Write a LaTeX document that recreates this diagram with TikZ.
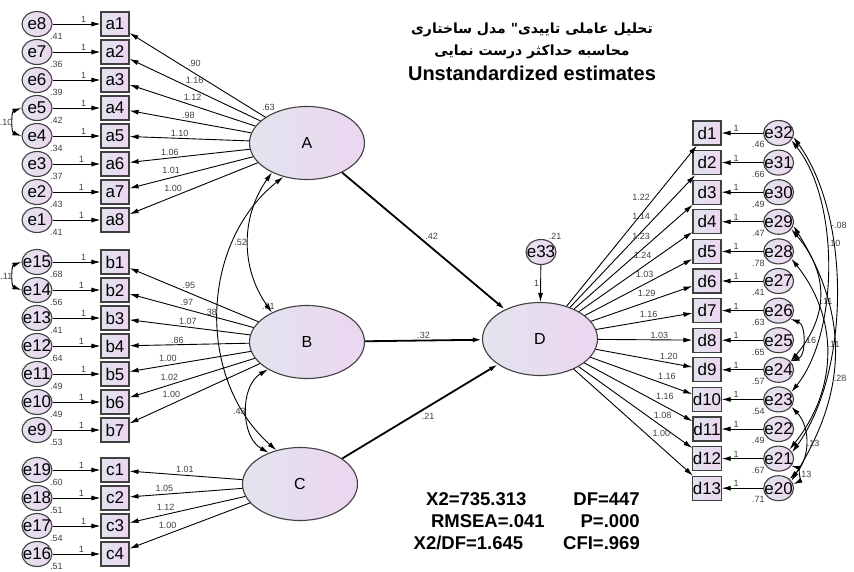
\documentclass[tikz,border=0pt]{standalone}
\usepackage{fontspec}
\setmainfont{Liberation Sans}
\newfontfamily\arabicfont[Script=Arabic]{DejaVu Sans}
\TeXXeTstate=1
\usetikzlibrary{arrows.meta, shapes.geometric, positioning}
\definecolor{semL}{RGB}{226,228,238}
\definecolor{semR}{RGB}{236,214,240}
\tikzset{%
>={Latex[width=5pt,length=9pt]},
  % Specifications for style of nodes:
            obs/.style = {rectangle, draw=black!75, line width=1.1pt,
                            left color=semL, right color=semR, minimum width=28pt,
                            minimum height=24pt, inner sep=0pt, font=\fontsize{17}{17}\selectfont},
            err/.style = {ellipse, draw=black!75, line width=1.1pt,
                            left color=semL, right color=semR, minimum width=30pt,
                            minimum height=25pt, inner xsep=-4pt, inner ysep=0pt,
                            font=\fontsize{17}{17}\selectfont},
            lat/.style = {ellipse, draw=black!75, line width=1.1pt,
                            left color=semL, right color=semR, minimum width=115pt,
                            minimum height=73pt, font=\fontsize{16}{16}\selectfont},
            est/.style = {font=\fontsize{9}{9}\selectfont, text=black!75, inner sep=1pt},
            varl/.style = {label={[est]-35:#1}},
            varr/.style = {label={[est]-150:#1}},
            reg/.style = {->, line width=0.9pt},
            big/.style = {->, line width=1.8pt},
            cov/.style = {<->, line width=0.9pt},
            ttl/.style = {font=\fontsize{14}{14}\selectfont\bfseries},
            stat/.style = {font=\fontsize{18.5}{22}\selectfont\bfseries, align=right, inner sep=0pt}
}
\begin{document}
\begin{tikzpicture}[x=1pt, y=-1pt, node distance=28pt]
\useasboundingbox (0,0) rectangle (854,571);

                % title
                \node[ttl] (ttl1) at (532,30) {\arabicfont\beginR تحلیل عاملی تاییدی" مدل ساختاری\endR};
                \node[ttl] (ttl2) at (532,52) {\arabicfont\beginR محاسبه حداکثر درست نمایی\endR};
                \node[font=\fontsize{20}{20}\selectfont\bfseries] (ttl3) at (532,73) {Unstandardized estimates};

                % latent variables
                \node[lat, label={[est]135:.63}] (A) at (307,143) {A};
                \node[lat, label={[est]135:.81}] (B) at (307,342) {B};
                \node[lat] (C) at (300,484) {C};
                \node[lat] (D) at (540,339) {D};
                \node[err, label={[est]60:.21}] (e33) at (541,252) {e33};
                \draw[reg] (e33) -- (D) node[est, midway, left] {1};

                % items of A
                \node[err, varl=.41] (e8) at (37,24) {e8};
                \node[err, below of=e8, varl=.36] (e7) {e7};
                \node[err, below of=e7, varl=.39] (e6) {e6};
                \node[err, below of=e6, varl=.42] (e5) {e5};
                \node[err, below of=e5, varl=.34] (e4) {e4};
                \node[err, below of=e4, varl=.37] (e3) {e3};
                \node[err, below of=e3, varl=.43] (e2) {e2};
                \node[err, below of=e2, varl=.41] (e1) {e1};
                \node[obs, right of=e8, xshift=50pt] (a1) {a1};
                \node[obs, right of=e7, xshift=50pt] (a2) {a2};
                \node[obs, right of=e6, xshift=50pt] (a3) {a3};
                \node[obs, right of=e5, xshift=50pt] (a4) {a4};
                \node[obs, right of=e4, xshift=50pt] (a5) {a5};
                \node[obs, right of=e3, xshift=50pt] (a6) {a6};
                \node[obs, right of=e2, xshift=50pt] (a7) {a7};
                \node[obs, right of=e1, xshift=50pt] (a8) {a8};
                \draw[reg] (e8) -- (a1) node[est, pos=0.65, above] {1};
                \draw[reg] (e7) -- (a2) node[est, pos=0.65, above] {1};
                \draw[reg] (e6) -- (a3) node[est, pos=0.65, above] {1};
                \draw[reg] (e5) -- (a4) node[est, pos=0.65, above] {1};
                \draw[reg] (e4) -- (a5) node[est, pos=0.65, above] {1};
                \draw[reg] (e3) -- (a6) node[est, pos=0.6, above] {1};
                \draw[reg] (e2) -- (a7) node[est, pos=0.6, above] {1};
                \draw[reg] (e1) -- (a8) node[est, pos=0.6, above] {1};
                \draw[cov] (e5.west) to[bend right=70] node[est, left] {.10} (e4.west);
                \draw[reg] (A) -- (a1) node[est, pos=0.58, auto, swap] {.90};
                \draw[reg] (A) -- (a2) node[est, pos=0.58, auto, swap] {1.16};
                \draw[reg] (A) -- (a3) node[est, pos=0.58, auto, swap] {1.12};
                \draw[reg] (A) -- (a4) node[est, pos=0.58, auto, swap] {.98};
                \draw[reg] (A) -- (a5) node[est, pos=0.58, auto, swap] {1.10};
                \draw[reg] (A) -- (a6) node[est, pos=0.58, auto, swap] {1.06};
                \draw[reg] (A) -- (a7) node[est, pos=0.58, auto, swap] {1.01};
                \draw[reg] (A) -- (a8) node[est, pos=0.58, auto, swap] {1.00};

                % items of B
                \node[err, varl=.68] (e15) at (37,262) {e15};
                \node[err, below of=e15, varl=.56] (e14) {e14};
                \node[err, below of=e14, varl=.41] (e13) {e13};
                \node[err, below of=e13, varl=.64] (e12) {e12};
                \node[err, below of=e12, varl=.49] (e11) {e11};
                \node[err, below of=e11, varl=.49] (e10) {e10};
                \node[err, below of=e10, varl=.53] (e9) {e9};
                \node[obs, right of=e15, xshift=50pt] (b1) {b1};
                \node[obs, right of=e14, xshift=50pt] (b2) {b2};
                \node[obs, right of=e13, xshift=50pt] (b3) {b3};
                \node[obs, right of=e12, xshift=50pt] (b4) {b4};
                \node[obs, right of=e11, xshift=50pt] (b5) {b5};
                \node[obs, right of=e10, xshift=50pt] (b6) {b6};
                \node[obs, right of=e9, xshift=50pt] (b7) {b7};
                \draw[reg] (e15) -- (b1) node[est, pos=0.65, above] {1};
                \draw[reg] (e14) -- (b2) node[est, pos=0.6, above] {1};
                \draw[reg] (e13) -- (b3) node[est, pos=0.65, above] {1};
                \draw[reg] (e12) -- (b4) node[est, pos=0.6, above] {1};
                \draw[reg] (e11) -- (b5) node[est, pos=0.65, above] {1};
                \draw[reg] (e10) -- (b6) node[est, pos=0.6, above] {1};
                \draw[reg] (e9) -- (b7) node[est, pos=0.6, above] {1};
                \draw[cov] (e15.west) to[bend right=70] node[est, left] {.11} (e14.west);
                \draw[reg] (B) -- (b1) node[est, pos=0.6, auto, swap] {.95};
                \draw[reg] (B) -- (b2) node[est, pos=0.6, auto, swap] {.97};
                \draw[reg] (B) -- (b3) node[est, pos=0.6, auto, swap] {1.07};
                \draw[reg] (B) -- (b4) node[est, pos=0.6, auto, swap] {.86};
                \draw[reg] (B) -- (b5) node[est, pos=0.6, auto, swap] {1.00};
                \draw[reg] (B) -- (b6) node[est, pos=0.6, auto, swap] {1.02};
                \draw[reg] (B) -- (b7) node[est, pos=0.6, auto, swap] {1.00};

                % items of C
                \node[err, varl=.60] (e19) at (37,470) {e19};
                \node[err, below of=e19, varl=.51] (e18) {e18};
                \node[err, below of=e18, varl=.54] (e17) {e17};
                \node[err, below of=e17, varl=.51] (e16) {e16};
                \node[obs, right of=e19, xshift=50pt] (c1) {c1};
                \node[obs, right of=e18, xshift=50pt] (c2) {c2};
                \node[obs, right of=e17, xshift=50pt] (c3) {c3};
                \node[obs, right of=e16, xshift=50pt] (c4) {c4};
                \draw[reg] (e19) -- (c1) node[est, pos=0.6, above] {1};
                \draw[reg] (e18) -- (c2) node[est, pos=0.6, above] {1};
                \draw[reg] (e17) -- (c3) node[est, pos=0.65, above] {1};
                \draw[reg] (e16) -- (c4) node[est, pos=0.6, above] {1};
                \draw[reg] (C) -- (c1) node[est, pos=0.6, auto, swap] {1.01};
                \draw[reg] (C) -- (c2) node[est, pos=0.6, auto, swap] {1.05};
                \draw[reg] (C) -- (c3) node[est, pos=0.6, auto, swap] {1.12};
                \draw[reg] (C) -- (c4) node[est, pos=0.6, auto, swap] {1.00};

                % covariances and structural paths
                \draw[cov] (A.220) to[bend right=35] node[est, midway, left] {.52} (B.140);
                \draw[cov] (A.235) to[bend right=50] node[est, midway, left] {.38} (C.125);
                \draw[cov] (B.215) to[bend right=60] node[est, midway, left] {.43} (C.135);
                \draw[big] (A) -- (D) node[est, midway, auto] {.42};
                \draw[big] (B) -- (D) node[est, midway, auto] {.32};
                \draw[big] (C) -- (D) node[est, midway, auto, swap] {.21};

                % items of D
                \tikzset{node distance = 29.6pt}
                \node[obs] (d1) at (707,133) {d1};
                \node[obs, below of=d1] (d2) {d2};
                \node[obs, below of=d2] (d3) {d3};
                \node[obs, below of=d3] (d4) {d4};
                \node[obs, below of=d4] (d5) {d5};
                \node[obs, below of=d5] (d6) {d6};
                \node[obs, below of=d6] (d7) {d7};
                \node[obs, below of=d7] (d8) {d8};
                \node[obs, below of=d8] (d9) {d9};
                \node[obs, below of=d9] (d10) {d10};
                \node[obs, below of=d10] (d11) {d11};
                \node[obs, below of=d11] (d12) {d12};
                \node[obs, below of=d12] (d13) {d13};
                \node[err, right of=d1, xshift=42pt, varr=.46] (e32) {e32};
                \node[err, right of=d2, xshift=42pt, varr=.66] (e31) {e31};
                \node[err, right of=d3, xshift=42pt, varr=.49] (e30) {e30};
                \node[err, right of=d4, xshift=42pt, varr=.47] (e29) {e29};
                \node[err, right of=d5, xshift=42pt, varr=.78] (e28) {e28};
                \node[err, right of=d6, xshift=42pt, varr=.41] (e27) {e27};
                \node[err, right of=d7, xshift=42pt, varr=.63] (e26) {e26};
                \node[err, right of=d8, xshift=42pt, varr=.65] (e25) {e25};
                \node[err, right of=d9, xshift=42pt, varr=.57] (e24) {e24};
                \node[err, right of=d10, xshift=42pt, varr=.54] (e23) {e23};
                \node[err, right of=d11, xshift=42pt, varr=.49] (e22) {e22};
                \node[err, right of=d12, xshift=42pt, varr=.67] (e21) {e21};
                \node[err, right of=d13, xshift=42pt, varr=.71] (e20) {e20};
                \draw[reg] (e32) -- (d1) node[est, pos=0.65, above] {1};
                \draw[reg] (e31) -- (d2) node[est, pos=0.65, above] {1};
                \draw[reg] (e30) -- (d3) node[est, pos=0.65, above] {1};
                \draw[reg] (e29) -- (d4) node[est, pos=0.65, above] {1};
                \draw[reg] (e28) -- (d5) node[est, pos=0.65, above] {1};
                \draw[reg] (e27) -- (d6) node[est, pos=0.65, above] {1};
                \draw[reg] (e26) -- (d7) node[est, pos=0.65, above] {1};
                \draw[reg] (e25) -- (d8) node[est, pos=0.65, above] {1};
                \draw[reg] (e24) -- (d9) node[est, pos=0.65, above] {1};
                \draw[reg] (e23) -- (d10) node[est, pos=0.65, above] {1};
                \draw[reg] (e22) -- (d11) node[est, pos=0.65, above] {1};
                \draw[reg] (e21) -- (d12) node[est, pos=0.65, above] {1};
                \draw[reg] (e20) -- (d13) node[est, pos=0.65, above] {1};
                \draw[reg] (D) -- (d1) node[est, pos=0.65, auto] {1.22};
                \draw[reg] (D) -- (d2) node[est, pos=0.65, auto] {1.14};
                \draw[reg] (D) -- (d3) node[est, pos=0.65, auto] {1.23};
                \draw[reg] (D) -- (d4) node[est, pos=0.65, auto] {1.24};
                \draw[reg] (D) -- (d5) node[est, pos=0.65, auto] {1.03};
                \draw[reg] (D) -- (d6) node[est, pos=0.65, auto] {1.29};
                \draw[reg] (D) -- (d7) node[est, pos=0.65, auto] {1.16};
                \draw[reg] (D) -- (d8) node[est, pos=0.65, auto] {1.03};
                \draw[reg] (D) -- (d9) node[est, pos=0.65, auto] {1.20};
                \draw[reg] (D) -- (d10) node[est, pos=0.65, auto] {1.16};
                \draw[reg] (D) -- (d11) node[est, pos=0.65, auto] {1.16};
                \draw[reg] (D) -- (d12) node[est, pos=0.65, auto] {1.08};
                \draw[reg] (D) -- (d13) node[est, pos=0.65, auto] {1.00};

                % error covariances of D items
                \draw[cov] (e32.-30) .. controls +(48,60) and +(48,-60) .. (e23.30) node[est, pos=0.42, right] {.10};
                \draw[cov] (e32.-15) .. controls +(58,80) and +(58,-80) .. (e21.25) node[est, pos=0.3, right] {-.08};
                \draw[cov] (e29.-30) .. controls +(38,45) and +(38,-45) .. (e24.35) node[est, pos=0.55, right] {.11};
                \draw[cov] (e28.-30) .. controls +(48,60) and +(48,-60) .. (e21.40) node[est, pos=0.45, right] {.11};
                \draw[cov] (e29.-15) .. controls +(56,90) and +(56,-90) .. (e20.30) node[est, pos=0.6, right] {.28};
                \draw[cov] (e26.-35) to[bend left=70] node[est, right] {.16} (e24.35);
                \draw[cov] (e23.-30) to[bend left=45] node[est, right] {.13} (e20.40);
                \draw[cov] (e21.-30) to[bend left=70] node[est, right] {.13} (e20.15);

                % fit indices
                \node[stat, anchor=east] (fit) at (640,521) {X2=735.313\hspace{47pt}DF=447\\
                    RMSEA=.041\hspace{36pt}P=.000\\
                    X2/DF=1.645\hspace{40pt}CFI=.969};

            \end{tikzpicture}
\end{document}
